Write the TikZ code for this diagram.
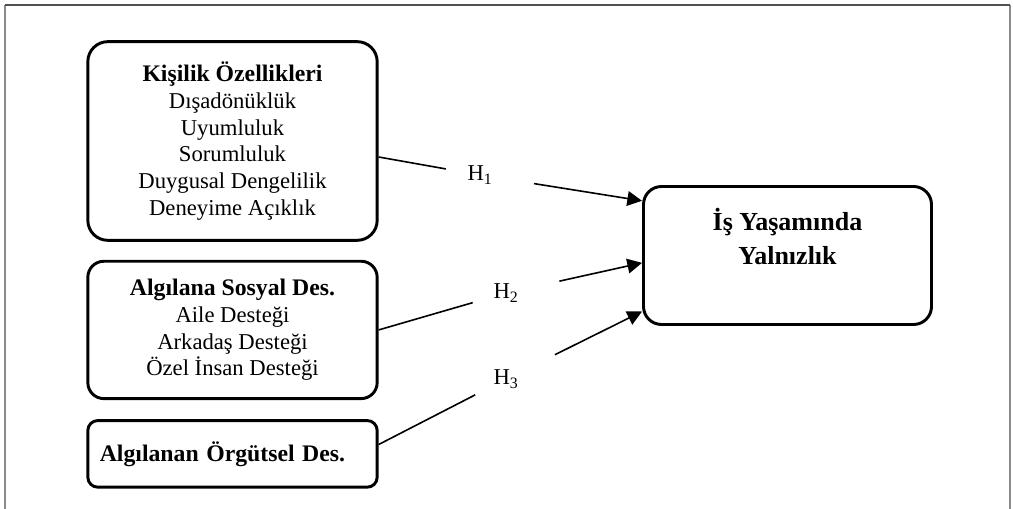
\documentclass[tikz,border=0pt]{standalone}
\usepackage{fontspec}
\setmainfont{Liberation Serif}
\usetikzlibrary{positioning, arrows.meta}
\definecolor{framestroke}{HTML}{8a8a8a}
\definecolor{frametop}{HTML}{505050}
\definecolor{boxstroke}{HTML}{000000}
\newcommand{\boxhead}[1]{{\fontsize{17.8}{20}\selectfont\bfseries #1}}

\begin{document}
\begin{tikzpicture}[
  x=0.75pt, y=-0.75pt,
  font=\fontsize{17}{20}\selectfont,
  factor/.style={rectangle, rounded corners=15pt, draw=boxstroke, line width=2.2pt,
                 minimum width=217pt, align=center, inner sep=2pt},
  outcome/.style={rectangle, rounded corners=13.5pt, draw=boxstroke, line width=2.2pt,
                  minimum width=216pt, minimum height=103.5pt},
  outtext/.style={font=\fontsize{19.5}{26}\selectfont\bfseries, align=center,
                  inner sep=0pt},
  hyp/.style={inner sep=0pt},
  link/.style={line width=1.2pt, shorten >=26pt},
  arrow/.style={-{Triangle[length=11pt, width=11pt]}, line width=1.2pt,
                shorten <=41pt}
]
\useasboundingbox (0,0) rectangle (1013,509);

% Frame (open at the bottom).
\draw[framestroke, line width=1pt] (5,5) -- (5,509);
\draw[framestroke, line width=1pt] (1010,5) -- (1010,509);
\draw[frametop, line width=1.5pt] (5,5) -- (1010,5);

% Predictor boxes (left column).
\node[factor, minimum height=149pt] (kisilik) at (232.5,141)
  {\boxhead{Kişilik Özellikleri}\\Dışadönüklük\\Uyumluluk\\Sorumluluk\\
   Duygusal Dengelilik\\Deneyime Açıklık};
\node[factor, minimum height=103pt, rounded corners=12pt,
      below=13.5pt of kisilik] (sosyal)
  {\boxhead{Algılana Sosyal Des.}\\Aile Desteği\\Arkadaş Desteği\\Özel İnsan Desteği};
\node[factor, minimum height=50pt, rounded corners=7.5pt, align=left,
      text width=199pt, inner xsep=9pt, below=14.25pt of sosyal] (orgutsel)
  {\boxhead{Algılanan Örgütsel Des.}};

% Outcome box.
\node[outcome] (yalnizlik) at (787.5,255.5) {};
\node[outtext, below=17pt of yalnizlik.north] (yalnizliktext)
  {İş Yaşamında\\Yalnızlık};

% Hypothesis labels.
\node[hyp] (h1) at (480,175) {H\textsubscript{1}};
\node[hyp] (h2) at (506,293) {H\textsubscript{2}};
\node[hyp] (h3) at (506,379) {H\textsubscript{3}};

\draw[link]  ([yshift=-12pt]kisilik.east) -- (h1.center);
\draw[arrow] (h1.center) -- ([yshift=41pt]yalnizlik.west);
\draw[link]  (sosyal.east) -- (h2.center);
\draw[arrow] (h2.center) -- ([yshift=-5.5pt]yalnizlik.west);
\draw[link]  ([yshift=7pt]orgutsel.east) -- (h3.center);
\draw[arrow] (h3.center) -- ([yshift=-42pt]yalnizlik.west);

\end{tikzpicture}
\end{document}
